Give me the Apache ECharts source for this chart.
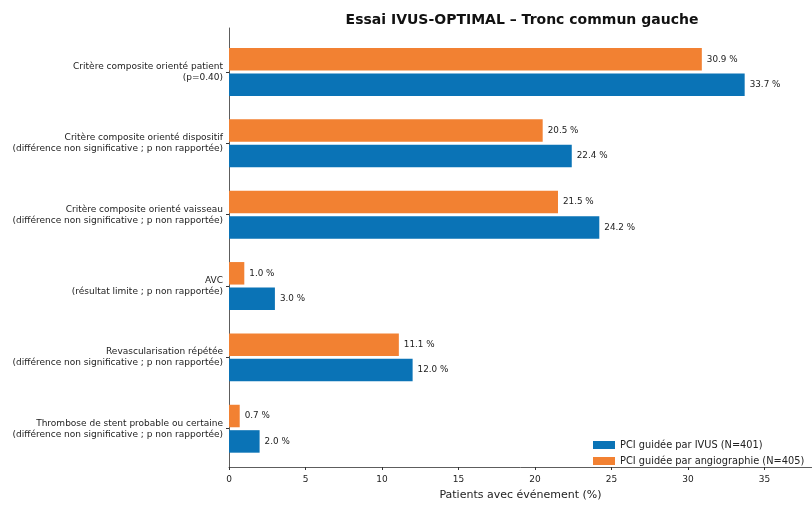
<!DOCTYPE html>
<html>
<head>
<meta charset="utf-8">
<script src="https://cdn.jsdelivr.net/npm/echarts@6/dist/echarts.min.js"></script>
<style>html,body{margin:0;padding:0;background:#fff}#c{width:812px;height:506px}</style>
</head>
<body>
<div id="c"></div>
<script>
var categories = [
  "Critère composite orienté patient\n(p=0.40)",
  "Critère composite orienté dispositif\n(différence non significative ; p non rapportée)",
  "Critère composite orienté vaisseau\n(différence non significative ; p non rapportée)",
  "AVC\n(résultat limite ; p non rapportée)",
  "Revascularisation répétée\n(différence non significative ; p non rapportée)",
  "Thrombose de stent probable ou certaine\n(différence non significative ; p non rapportée)"
];
var ivusValues = [33.7, 22.4, 24.2, 3.0, 12.0, 2.0];
var angioValues = [30.9, 20.5, 21.5, 1.0, 11.1, 0.7];
var xTicks = [0, 5, 10, 15, 20, 25, 30, 35];
var seriesNames = ["PCI guidée par IVUS (N=401)", "PCI guidée par angiographie (N=405)"];
var titleText = "Essai IVUS-OPTIMAL – Tronc commun gauche";
var xAxisTitle = "Patients avec événement (%)";

var XMAX = 38.1;
var FONT = "DejaVu Sans";
var chart = echarts.init(document.getElementById('c'), null, {renderer: 'canvas'});
var lbl = {
  show: true, position: 'right', distance: 5, fontSize: 8.8, fontFamily: FONT, color: '#222',
  formatter: function (p) { return p.value.toFixed(1) + ' %'; }
};
chart.setOption({
  animation: false,
  backgroundColor: '#fff',
  title: {
    text: titleText, left: 517, top: 8, textAlign: 'center',
    textStyle: {fontFamily: FONT, fontWeight: 'bold', fontSize: 14, color: '#111'}
  },
  legend: {
    data: seriesNames, orient: 'vertical', left: 588, top: 435,
    itemWidth: 22, itemHeight: 8, itemGap: 6, icon: 'rect',
    textStyle: {fontFamily: FONT, fontSize: 9.8, color: '#222'}
  },
  grid: [
    {left: 229, right: 0, top: 36.3, bottom: 41.6},
    {left: 229, right: 0, top: 28, bottom: 33}
  ],
  xAxis: [
    {gridIndex: 0, type: 'value', min: 0, max: XMAX, show: false, splitLine: {show: false}},
    {gridIndex: 1, type: 'value', min: 0, max: XMAX, interval: 5,
     name: xAxisTitle, nameLocation: 'middle', nameGap: 23,
     nameTextStyle: {fontFamily: FONT, fontSize: 11, color: '#222'},
     axisLine: {show: true, lineStyle: {color: '#333', width: 0.8}},
     axisTick: {show: true, length: 3, customValues: xTicks, lineStyle: {color: '#333'}},
     axisLabel: {customValues: xTicks, fontFamily: FONT, fontSize: 9, color: '#222', margin: 8},
     splitLine: {show: false}}
  ],
  yAxis: [
    {gridIndex: 0, type: 'category', data: categories, inverse: true,
     axisLine: {show: false},
     axisTick: {show: true, alignWithLabel: true, length: 3, lineStyle: {color: '#333'}},
     axisLabel: {fontFamily: FONT, fontSize: 9, lineHeight: 11, color: '#222', margin: 6, align: 'right'}},
    {gridIndex: 1, type: 'value', min: 0, max: 1,
     axisLine: {show: true, lineStyle: {color: '#333', width: 0.8}},
     axisTick: {show: false}, axisLabel: {show: false}, splitLine: {show: false}}
  ],
  series: [
    {name: seriesNames[1], type: 'bar', xAxisIndex: 0, yAxisIndex: 0, data: angioValues,
     barWidth: 22.5, barGap: '13%', itemStyle: {color: '#f28132'}, label: lbl},
    {name: seriesNames[0], type: 'bar', xAxisIndex: 0, yAxisIndex: 0, data: ivusValues,
     barWidth: 22.5, barGap: '13%', itemStyle: {color: '#0a73b6'}, label: lbl}
  ]
});
</script>
</body>
</html>
